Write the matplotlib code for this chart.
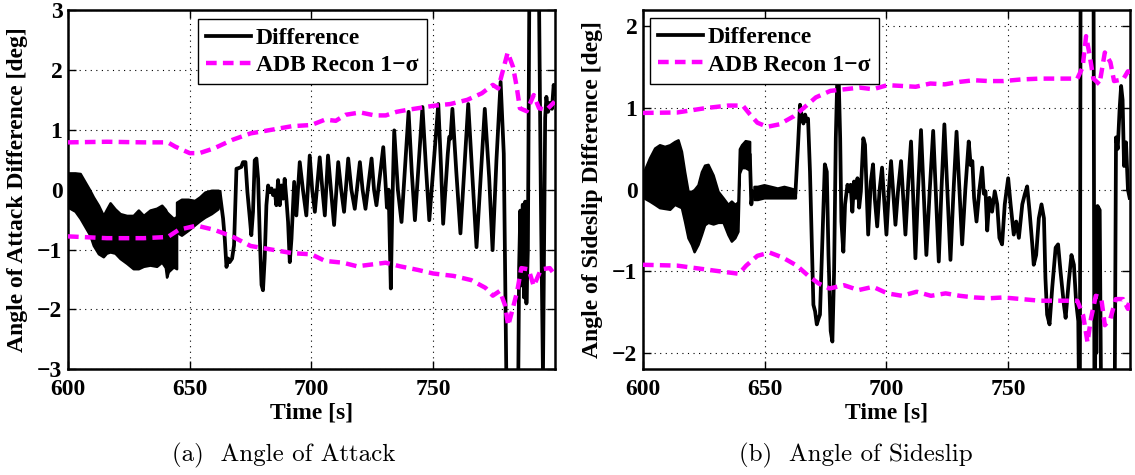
import matplotlib
matplotlib.use("Agg")
import matplotlib.pyplot as plt

plt.rcParams['font.family'] = ['Liberation Serif', 'DejaVu Serif']
plt.rcParams['font.weight'] = 'bold'
plt.rcParams['axes.unicode_minus'] = True

# ---------------- Angle of attack ----------------
# dense high-rate section, drawn as an envelope band
aoa_band1_t = [600.3, 602.9, 605.0, 607.0, 609.0, 610.4, 612.5, 614.5, 615.8, 617.3,
               619.3, 621.4, 624.1, 626.8, 628.9, 631.0, 633.7, 636.4, 638.5, 640.0,
               640.5, 641.2, 643.3, 644.6]
aoa_band1_hi = [0.28, 0.28, 0.27, 0.13, -0.01, -0.12, -0.26, -0.43, -0.33, -0.22,
                -0.32, -0.40, -0.43, -0.43, -0.34, -0.43, -0.34, -0.31, -0.26, -0.33,
                -0.37, -0.40, -0.48, -0.45]
aoa_band1_lo = [-0.30, -0.36, -0.48, -0.62, -0.76, -0.93, -1.07, -1.12, -1.06, -1.04,
                -1.06, -1.15, -1.23, -1.32, -1.32, -1.28, -1.26, -1.28, -1.21, -1.30,
                -1.46, -1.37, -1.29, -1.32]
aoa_band2_t = [644.6, 646.6, 649.3, 652.0, 654.1, 656.2, 658.9, 661.6, 662.2]
aoa_band2_hi = [-0.21, -0.16, -0.16, -0.18, -0.12, -0.04, -0.01, -0.01, -0.02]
aoa_band2_lo = [-0.71, -0.76, -0.68, -0.59, -0.52, -0.46, -0.40, -0.32, -0.20]

aoa_t = [662.3, 663.7, 664.4, 665.1, 665.8, 666.4, 667.4, 668.2, 669.2, 670.1,
         671.2, 671.9, 672.9, 673.7, 674.7, 675.3, 676.0, 676.7, 677.4, 678.1,
         678.8, 679.5, 680.1, 680.8, 681.5, 682.2, 682.9, 683.6, 684.2, 684.9,
         685.6, 686.3, 687.0, 687.7, 688.4, 689.0, 689.7, 690.4, 691.1, 691.8,
         692.9, 693.8, 695.2, 696.5, 697.9, 699.3, 700.3, 701.4, 703.4, 704.5,
         705.5, 706.8, 708.0, 709.3, 711.0, 712.2, 713.4, 715.1, 716.4, 717.8,
         719.9, 721.0, 722.2, 724.7, 725.7, 726.7, 729.5, 730.3, 731.0, 731.7,
         732.6, 733.2, 734.0, 735.5, 737.0, 739.9, 741.2, 742.5, 745.6, 747.0,
         748.4, 752.1, 753.2, 754.1, 756.0, 756.6, 757.1, 757.9, 759.5, 761.2,
         764.4, 766.0, 767.8, 771.2, 773.0, 774.4, 776.0, 777.7, 779.0, 780.3,
         784.8, 785.3, 785.8, 786.3, 786.8, 787.3, 787.8, 788.3, 788.9, 789.6,
         793.3, 794.2, 795.1, 796.0, 796.5, 797.2, 798.0, 798.8, 799.5, 799.9]
aoa_diff = [-0.04, -0.48, -0.82, -1.29, -1.15, -1.21, -1.15, -0.93, 0.35, 0.36,
            0.38, 0.46, 0.46, -0.04, -0.48, -0.76, -0.37, 0.49, 0.52, 0.18,
            -0.82, -1.59, -1.68, -1.15, -0.26, 0.07, -0.04, 0.02, -0.09, -0.01,
            -0.26, 0.16, -0.26, 0.07, -0.15, 0.18, -0.15, -0.54, -1.21, -0.82,
            0.13, -0.43, 0.46, 0.0, -0.43, 0.57, 0.0, -0.37, 0.54, 0.0,
            -0.43, 0.57, 0.0, -0.59, 0.46, 0.0, -0.37, 0.52, 0.0, -0.32,
            0.46, 0.0, -0.32, 0.52, 0.0, -0.26, 0.71, 0.2, -0.3, 0.0,
            -1.65, -0.3, 0.99, 0.0, -0.54, 1.30, 0.3, -0.51, 1.38, 0.4,
            -0.51, 1.43, 0.4, -0.57, 0.6, 0.88, 0.85, 1.35, 0.3, -0.73,
            1.43, 0.3, -0.96, 1.35, 0.2, -1.01, 0.5, 1.8, 0.6, -4.0,
            -4.0, -1.3, -0.35, -1.6, -0.25, -1.8, -0.2, -1.9, -1.0, 4.0,
            4.0, 0.0, -3.1, 1.2, 1.55, 1.3, 1.45, 1.35, 1.75, 1.6]

aoa_sig_up_t = [600.0, 616.0, 631.0, 641.0, 644.0, 650.0, 654.0, 660.0, 667.4, 675.0,
                683.6, 692.0, 700.0, 705.6, 710.0, 714.0, 720.0, 726.0, 730.5, 735.0,
                739.0, 743.7, 750.0, 757.0, 764.0, 770.0, 774.5, 776.7, 778.0, 780.6,
                782.8, 784.3, 785.6, 788.4, 791.3, 793.5, 796.5, 799.9]
aoa_sig_up = [0.79, 0.80, 0.79, 0.79, 0.72, 0.61, 0.61, 0.69, 0.83, 0.94,
              1.00, 1.06, 1.08, 1.17, 1.15, 1.25, 1.29, 1.24, 1.24, 1.30,
              1.33, 1.36, 1.40, 1.43, 1.50, 1.61, 1.75, 1.69, 1.89, 2.29,
              2.05, 1.72, 1.36, 1.31, 1.58, 1.36, 1.33, 1.47]
aoa_sig_lo_t = [600.0, 616.0, 631.0, 641.0, 645.5, 652.8, 660.0, 667.4, 675.0, 683.6,
                692.0, 700.0, 705.6, 713.0, 718.8, 724.6, 730.5, 736.4, 743.7, 750.0,
                758.3, 765.6, 771.5, 774.5, 777.4, 779.6, 780.8, 782.4, 784.5, 786.2,
                789.2, 791.3, 794.3, 797.9, 799.9]
aoa_sig_lo = [-0.78, -0.81, -0.81, -0.79, -0.67, -0.60, -0.67, -0.78, -0.94, -1.00,
              -1.06, -1.08, -1.19, -1.22, -1.28, -1.25, -1.22, -1.28, -1.34, -1.40,
              -1.44, -1.51, -1.64, -1.77, -1.69, -1.94, -2.27, -2.03, -1.70, -1.31,
              -1.33, -1.61, -1.33, -1.31, -1.42]

# ---------------- Angle of sideslip ----------------
ss_band1_t = [600.3, 602.7, 604.8, 606.8, 608.9, 611.0, 613.0, 614.4, 615.8, 617.1,
              618.5, 619.9, 621.0, 622.6, 624.0, 625.3, 626.7, 628.8, 630.8, 632.9,
              634.9, 636.3, 637.7, 639.0, 639.6, 640.5, 642.0, 643.8]
ss_band1_hi = [0.22, 0.39, 0.51, 0.55, 0.53, 0.55, 0.59, 0.61, 0.47, 0.22,
               -0.02, -0.02, 0.0, 0.06, 0.22, 0.30, 0.31, 0.18, -0.02, -0.10,
               -0.18, -0.14, -0.18, -0.15, 0.50, 0.55, 0.60, 0.59]
ss_band1_lo = [-0.10, -0.14, -0.18, -0.22, -0.23, -0.24, -0.18, -0.20, -0.22, -0.39,
               -0.59, -0.67, -0.76, -0.67, -0.55, -0.43, -0.40, -0.42, -0.40, -0.40,
               -0.55, -0.63, -0.59, -0.51, 0.20, 0.27, 0.27, 0.24]
ss_band2_t = [645.6, 647.0, 649.7, 652.5, 655.2, 657.9, 660.5, 662.6]
ss_band2_hi = [0.04, 0.04, 0.06, 0.04, 0.02, 0.04, 0.02, 0.0]
ss_band2_lo = [-0.12, -0.12, -0.10, -0.10, -0.10, -0.10, -0.10, -0.10]

ss_t = [643.9, 644.5, 645.1, 645.6, 662.6, 663.7, 664.5, 665.1, 665.9, 666.6,
        667.3, 667.8, 668.6, 669.3, 670.0, 670.7, 671.4, 672.1, 672.7, 673.7,
        674.7, 675.5, 676.2, 677.1, 677.8, 678.5, 679.2, 680.1, 681.0, 681.5,
        682.3, 683.0, 684.0, 684.7, 685.3, 686.0, 686.7, 687.4, 688.1, 688.8,
        689.5, 690.5, 691.2, 692.5, 693.6, 694.5, 695.2, 696.2, 697.2, 698.2,
        699.0, 700.0, 701.0, 701.9, 702.8, 703.7, 704.8, 706.0, 706.9, 707.8,
        709.0, 710.1, 711.0, 711.9, 713.0, 714.2, 715.3, 716.4, 717.8, 719.2,
        720.4, 721.5, 722.6, 723.8, 725.0, 726.3, 727.5, 728.8, 730.0, 731.1,
        732.4, 733.8, 734.6, 735.3, 736.0, 737.0, 738.2, 739.3, 740.0, 740.7,
        741.4, 742.3, 743.4, 744.5, 745.5, 746.4, 747.5, 748.6, 750.0, 751.0,
        752.3, 753.3, 754.4, 755.8, 756.8, 757.8, 758.8, 759.9, 760.5, 761.5,
        762.6, 763.7, 764.7, 765.3, 766.0, 767.0, 768.1, 769.5, 770.5, 771.5,
        772.9, 773.6, 774.9, 776.0, 777.0, 777.9, 778.8, 779.4, 779.8, 785.0,
        785.5, 785.9, 786.2, 786.7, 787.6, 788.4, 793.6, 794.3, 795.0, 795.8,
        796.4, 797.0, 797.6, 798.4, 799.2, 799.9]
ss_diff = [0.42, -0.18, -0.02, -0.04, -0.05, 0.55, 1.04, 0.92, 0.81, 0.92,
           0.84, 0.87, 0.22, -0.59, -1.41, -1.49, -1.65, -1.58, -1.53, -0.59,
           0.31, 0.22, -0.80, -1.73, -1.86, -1.0, 0.63, 1.7, 0.63, -0.39,
           -0.76, -0.18, 0.06, -0.02, 0.06, -0.27, 0.10, -0.10, 0.14, -0.22,
           -0.02, 0.63, 0.55, -0.55, 0.10, 0.31, -0.1, -0.45, 0.0, 0.27,
           -0.1, -0.55, 0.0, 0.35, -0.05, -0.43, 0.0, 0.35, -0.1, -0.55,
           0.1, 0.59, -0.1, -0.84, 0.0, 0.73, -0.05, -0.80, 0.0, 0.72,
           -0.1, -0.88, 0.0, 0.80, 0.0, -0.86, -0.05, 0.71, 0.0, -0.67,
           0.0, 0.59, 0.3, 0.35, -0.1, -0.39, 0.0, 0.27, -0.05, -0.02,
           -0.5, -0.1, -0.27, -0.02, -0.18, -0.59, -0.67, -0.18, 0.14, -0.18,
           -0.55, -0.39, -0.59, -0.18, -0.06, 0.04, -0.27, -0.67, -0.92, -0.80,
           -0.35, -0.18, -0.35, -1.08, -1.53, -1.65, -1.20, -0.71, -0.67, -1.00,
           -1.41, -1.57, -1.12, -0.80, -0.92, -1.37, -1.61, -3.5, 3.5, 3.5,
           -3.5, -1.2, -2.0, -0.2, -0.25, -3.5, -3.5, 0.64, 0.5, 1.0,
           1.27, 1.1, 0.29, 0.58, 0.0, -0.1]

ss_sig_up_t = [600.0, 614.0, 626.0, 635.0, 641.0, 644.0, 647.0, 651.0, 656.0, 662.0,
               666.0, 671.0, 677.0, 683.0, 689.0, 694.5, 700.4, 706.4, 712.0, 718.0,
               724.0, 730.0, 736.0, 742.0, 748.0, 755.5, 763.0, 770.4, 778.4, 780.6,
               782.0, 783.4, 785.0, 787.5, 789.7, 792.0, 793.5, 797.2, 799.2, 799.9]
ss_sig_up = [0.94, 0.945, 1.00, 1.03, 1.03, 0.92, 0.82, 0.77, 0.80, 0.90,
             1.00, 1.13, 1.21, 1.23, 1.25, 1.23, 1.28, 1.27, 1.26, 1.30,
             1.29, 1.32, 1.34, 1.33, 1.33, 1.35, 1.36, 1.36, 1.36, 1.50,
             1.88, 1.66, 1.36, 1.29, 1.68, 1.56, 1.33, 1.35, 1.45, 1.35]
ss_sig_lo_t = [600.0, 614.0, 629.0, 639.4, 642.4, 647.0, 652.0, 657.3, 663.2, 667.7,
               672.2, 676.6, 682.6, 688.5, 694.5, 700.4, 706.4, 712.4, 718.3, 724.3,
               730.2, 736.2, 742.1, 748.0, 755.5, 763.0, 770.4, 778.4, 780.8, 782.6,
               784.0, 786.0, 788.2, 789.7, 792.0, 794.2, 797.2, 799.2, 799.9]
ss_sig_lo = [-0.92, -0.93, -0.99, -1.03, -0.93, -0.81, -0.77, -0.83, -0.93, -1.05,
             -1.15, -1.21, -1.17, -1.23, -1.19, -1.27, -1.30, -1.25, -1.30, -1.27,
             -1.30, -1.32, -1.33, -1.32, -1.34, -1.36, -1.36, -1.36, -1.54, -1.87,
             -1.58, -1.30, -1.32, -1.66, -1.58, -1.34, -1.34, -1.46, -1.34]

x_ticks = [600, 650, 700, 750]
aoa_ticks = [-3, -2, -1, 0, 1, 2, 3]
ss_ticks = [-2, -1, 0, 1, 2]

MAGENTA = '#ff00ff'
FS = 17

fig = plt.figure(figsize=(11.35, 4.75), dpi=100)
ax1 = fig.add_axes([0.0599, 0.2225, 0.429, 0.7564])
ax2 = fig.add_axes([0.5665, 0.2225, 0.429, 0.7564])


def panel(ax, bands, t, d, sut, su, slt, sl, ylim, yticks, ylabel, leg_xy):
    for bt, bhi, blo in bands:
        ax.fill_between(bt, blo, bhi, facecolor='black', edgecolor='black',
                        linewidth=1.8, zorder=2)
    h1, = ax.plot(t, d, color='black', lw=2.7, zorder=3, label='Difference',
                  solid_joinstyle='round')
    h2, = ax.plot(sut, su, color=MAGENTA, lw=3.2, dashes=(2.4, 1.4), zorder=4,
                  label='ADB Recon 1\u2212\u03c3')
    ax.plot(slt, sl, color=MAGENTA, lw=3.2, dashes=(2.4, 1.4), zorder=4)

    ax.set_xlim(600, 800)
    ax.set_ylim(*ylim)
    ax.set_xticks(x_ticks)
    ax.set_yticks(yticks)
    ax.grid(True, color='black', linestyle=(0, (1, 4)), linewidth=0.8)
    ax.set_axisbelow(True)
    ax.tick_params(direction='in', length=6, width=1, top=True, right=True,
                   labelsize=FS)
    ax.tick_params(axis='x', pad=7)
    ax.tick_params(axis='y', pad=4)
    for sp in ax.spines.values():
        sp.set_linewidth(1.8)

    ax.set_xlabel('Time [s]', fontsize=FS, fontweight='bold')
    ax.xaxis.set_label_coords(0.5, -0.122)
    ax.xaxis.label.set_va('center')
    ax.set_ylabel(ylabel, fontsize=FS, fontweight='bold')
    ax.yaxis.set_label_coords(-0.103, 0.5)
    ax.yaxis.label.set_va('center')

    leg = ax.legend(handles=[h1, h2], loc='upper left', bbox_to_anchor=leg_xy,
                    borderaxespad=0, fancybox=False, framealpha=1,
                    edgecolor='black', fontsize=FS, handlelength=1.9,
                    handletextpad=0.2, borderpad=0.35, labelspacing=0.25)
    leg.get_frame().set_linewidth(1.0)
    leg.set_zorder(10)


panel(ax1, [(aoa_band1_t, aoa_band1_hi, aoa_band1_lo),
            (aoa_band2_t, aoa_band2_hi, aoa_band2_lo)],
      aoa_t, aoa_diff, aoa_sig_up_t, aoa_sig_up, aoa_sig_lo_t, aoa_sig_lo,
      (-3, 3), aoa_ticks, 'Angle of Attack Difference [deg]', (0.267, 0.975))
panel(ax2, [(ss_band1_t, ss_band1_hi, ss_band1_lo),
            (ss_band2_t, ss_band2_hi, ss_band2_lo)],
      ss_t, ss_diff, ss_sig_up_t, ss_sig_up, ss_sig_lo_t, ss_sig_lo,
      (-2.2, 2.2), ss_ticks, 'Angle of Sideslip Difference [deg]', (0.0144, 0.977))

cap_y = 1 - 455 / 475
fig.text(284 / 1135, cap_y, '(a)  Angle of Attack', ha='center', va='center',
         fontsize=18, fontfamily='cmr10', fontweight='normal')
fig.text(856 / 1135, cap_y, '(b)  Angle of Sideslip', ha='center', va='center',
         fontsize=18, fontfamily='cmr10', fontweight='normal')

fig.savefig('out.png', dpi=100)
